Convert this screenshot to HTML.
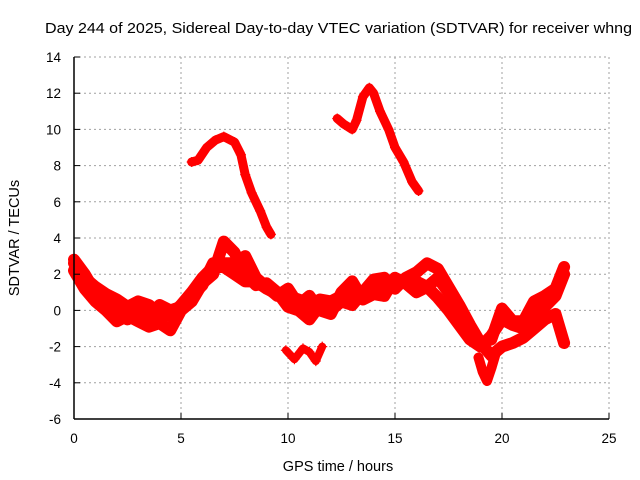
<!DOCTYPE html>
<html><head><meta charset="utf-8"><style>
body{margin:0;background:#fff;}
svg{display:block;font-family:"Liberation Sans",sans-serif;}
</style></head><body>
<svg id="chart" width="640" height="480">
<text x="45" y="33" font-size="15" textLength="587" lengthAdjust="spacingAndGlyphs">Day 244 of 2025, Sidereal Day-to-day VTEC variation (SDTVAR) for receiver whng</text>
<text x="338" y="471" text-anchor="middle" font-size="14.5">GPS time / hours</text>
<text transform="translate(19,238) rotate(-90)" text-anchor="middle" font-size="14.5">SDTVAR / TECUs</text>
<g id="grid"></g>
<g id="series"></g>
<g id="axes"></g>
</svg>
<script>
const xTicks=[0,5,10,15,20,25];
const yTicks=[-6,-4,-2,0,2,4,6,8,10,12,14];
const arcAHours=[5.5,5.8,6.2,6.6,7.0,7.5,7.8,8.0,8.3,8.7,9.0,9.2];
const arcAValues=[8.2,8.3,9.0,9.4,9.6,9.3,8.6,7.5,6.5,5.5,4.6,4.2];
const arcBHours=[12.3,12.6,13.0,13.2,13.5,13.8,14.0,14.3,14.7,15.0,15.4,15.8,16.1];
const arcBValues=[10.6,10.3,10.0,10.5,11.8,12.3,12.0,11.0,10.0,9.0,8.2,7.1,6.6];
const dipHours=[9.9,10.3,10.7,11.0,11.3,11.6];
const dipValues=[-2.2,-2.7,-2.1,-2.3,-2.8,-2.0];
const bandHours=[0,0.5,1,1.5,2,2.5,3,3.5,4,4.5,5,5.5,6,6.5,7,7.5,8,8.5,9,9.5,10,10.5,11,11.5,12,12.5,13,13.5,14,14.5,15,15.5,16,16.5,17,17.5,18,18.5,19,19.5,20,20.5,21,21.5,22,22.5,22.9];
const band1Values=[2.6,1.8,1.3,0.9,0.6,0.2,0.5,0.3,-0.2,-0.3,0.3,1.0,1.8,2.4,2.4,2.0,1.6,1.6,1.2,0.9,0.8,0.6,0.3,0.6,0.5,0.8,1.0,0.9,1.3,1.6,1.6,1.5,1.6,1.3,0.7,0,-0.8,-1.6,-2.0,-1.4,-0.5,-0.8,-1.0,-0.3,0.2,0.8,2.0];
const band2Values=[2.2,1.2,0.5,0,-0.6,-0.3,-0.6,-0.9,-0.7,-1.1,0,0.5,1.5,2.0,3.8,3.2,2.0,1.4,1.5,1.0,0.2,0,-0.5,0.3,0,0.5,0.3,1.0,1.7,1.8,1.2,1.8,2.1,2.6,2.3,1.3,0.3,-0.8,-1.8,-2.5,-2.0,-1.8,-1.5,-1.0,-0.5,-0.2,-1.8];
const band3Values=[2.8,2.0,1.0,0.5,0.2,-0.5,0.0,-0.4,0.3,0,0.2,0.8,1.4,2.6,2.6,2.6,3.0,1.8,1.3,0.8,1.2,0.3,0.8,0.0,-0.2,1.0,1.6,0.6,0.9,0.8,1.8,1.5,1.0,1.3,1.8,1.0,-0.2,-1.5,-1.8,-1.6,0.1,-0.6,-0.6,0.5,0.8,1.2,2.4];
const deepDipHours=[18.9,19.1,19.3,19.5,19.7];
const deepDipValues=[-2.6,-3.4,-3.9,-3.2,-2.4];

const X0=74,X1=609,Y0=419,Y1=57;
const xs=h=>X0+h/25*(X1-X0);
const ys=v=>Y0-(v+6)/20*(Y0-Y1);
const NS="http://www.w3.org/2000/svg";
const mk=(t,a,p)=>{const e=document.createElementNS(NS,t);for(const k in a)e.setAttribute(k,a[k]);p.appendChild(e);return e;};
const grid=document.getElementById('grid'),axes=document.getElementById('axes'),ser=document.getElementById('series');
xTicks.forEach(t=>{
  if(t>0){const l=mk('line',{x1:xs(t),x2:xs(t),y1:Y1,y2:Y0,stroke:'#a0a0a0','stroke-dasharray':'2,3'},grid);
  
  }
  const tx=mk('text',{x:xs(t),y:443,'text-anchor':'middle','font-size':'13.5'},axes);tx.textContent=t;
  
  
  mk('line',{x1:xs(t),x2:xs(t),y1:Y0,y2:Y0-6,stroke:'#000'},axes);
});
yTicks.forEach(t=>{
  if(t>-6){const l=mk('line',{x1:X0,x2:X1,y1:ys(t),y2:ys(t),stroke:'#a0a0a0','stroke-dasharray':'2,3'},grid);
  
  }
  const tx=mk('text',{x:61,y:ys(t)+5,'text-anchor':'end','font-size':'13.5'},axes);tx.textContent=t;
  
  
  mk('line',{x1:X0,x2:X0+6,y1:ys(t),y2:ys(t),stroke:'#000'},axes);
});
mk('line',{x1:X0,x2:X0,y1:Y1,y2:Y0,stroke:'#000','stroke-width':1.5},axes);
mk('line',{x1:X0,x2:X1,y1:Y0,y2:Y0,stroke:'#000','stroke-width':1.5},axes);
function draw(hs,vs,name,w){
  const pts=hs.map((h,i)=>xs(h).toFixed(1)+','+ys(vs[i]).toFixed(1)).join(' ');
  const pl=mk('polyline',{points:pts,fill:'none',stroke:'#f00','stroke-width':w,'stroke-linejoin':'round','stroke-linecap':'round'},ser);
  
  
  hs.forEach((h,i)=>{
    const p=mk('path',{d:`M${xs(h)-5},${ys(vs[i])}h10M${xs(h)},${ys(vs[i])-5}v10`,stroke:'#f00','stroke-width':1.2},ser);
    
    
  });
}
draw(arcAHours,arcAValues,'arc-a-series',9);
draw(arcBHours,arcBValues,'arc-b-series',9);
draw(dipHours,dipValues,'dip-series',8);
draw(bandHours,band1Values,'band-1-series',12);
draw(bandHours,band2Values,'band-2-series',12);
draw(bandHours,band3Values,'band-3-series',12);
draw(deepDipHours,deepDipValues,'deep-dip-series',10);
</script>
</body></html>
